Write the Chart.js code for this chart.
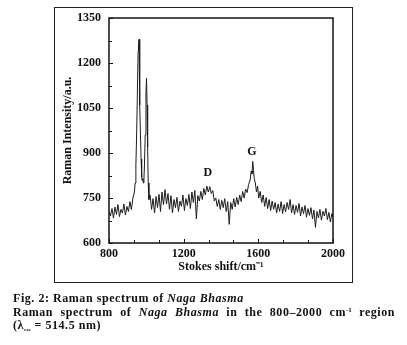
<!DOCTYPE html>
<html>
<head>
<meta charset="utf-8">
<script src="https://cdn.jsdelivr.net/npm/chart.js@4"></script>
<style>
  html, body { margin: 0; padding: 0; background: #fff; }
  body { width: 407px; height: 345px; position: relative; overflow: hidden; }
  #frame { position: absolute; left: 54px; top: 7px; width: 297px; height: 274px; border: 1px solid #222; box-sizing: content-box; }
  canvas#c { position: absolute; left: 0; top: 0; }
  #cap { position: absolute; left: 13px; top: 292px; width: 382px; font-family: "Liberation Serif", serif; font-weight: bold; font-size: 12px; line-height: 13.5px; letter-spacing: 0.55px; color: #111; }
  #cap div { white-space: nowrap; }
  #cap .j { text-align: justify; text-align-last: justify; white-space: normal; }
  #cap sub { font-size: 5px; vertical-align: -2px; letter-spacing: 0; }
  #cap sup { font-size: 7px; vertical-align: 4px; line-height: 0; letter-spacing: 0; }
</style>
</head>
<body>
<div id="frame"></div>
<canvas id="c" width="407" height="345"></canvas>
<div id="cap">
  <div>Fig. 2: Raman spectrum of <i>Naga Bhasma</i></div>
  <div class="j">Raman spectrum of <i>Naga Bhasma</i> in the 800–2000 cm<sup>-1</sup> region</div>
  <div>(λ<sub>exc</sub> = 514.5 nm)</div>
</div>
<script>
// ---- data ----
const ramanShift = [
  800, 808, 816, 824, 832, 840, 848, 856, 864, 872, 880, 888, 896, 904, 912, 920, 928, 936,
  940, 944, 948, 952, 956, 958, 961, 963, 966, 969, 972, 975, 978, 981, 984, 987, 990, 994,
  998, 1001, 1004, 1007, 1010, 1014, 1020, 1028, 1036, 1044, 1052, 1060, 1068, 1076, 1084,
  1092, 1100, 1108, 1116, 1124, 1132, 1140, 1148, 1156, 1164, 1172, 1180, 1188, 1196, 1204,
  1212, 1220, 1228, 1236, 1244, 1252, 1260, 1268, 1276, 1284, 1292, 1300, 1308, 1316, 1324,
  1332, 1340, 1348, 1356, 1364, 1372, 1380, 1388, 1396, 1404, 1412, 1420, 1428, 1436, 1444,
  1452, 1460, 1468, 1476, 1484, 1492, 1500, 1508, 1516, 1524, 1532, 1540, 1548, 1556, 1562,
  1566, 1570, 1574, 1578, 1584, 1590, 1596, 1602, 1610, 1618, 1626, 1634, 1642, 1650, 1658,
  1666, 1674, 1682, 1690, 1698, 1706, 1714, 1722, 1730, 1738, 1746, 1754, 1762, 1770, 1778,
  1786, 1794, 1802, 1810, 1818, 1826, 1834, 1842, 1850, 1858, 1866, 1874, 1882, 1890, 1898,
  1906, 1914, 1922, 1930, 1938, 1946, 1954, 1962, 1970, 1978, 1986, 1994, 2000
];
const ramanIntensity = [
  705, 690, 715, 683, 720, 695, 728, 688, 712, 700, 730, 693, 722, 705, 738, 712, 750, 770,
  800, 860, 960, 1100, 1240, 1262, 1279, 1200, 1060, 950, 880, 820, 808, 815, 800, 812, 860, 960,
  1100, 1150, 1060, 920, 800, 745, 760, 712, 748, 700, 755, 718, 762, 705, 770,
  728, 778, 730, 765, 712, 758, 700, 745, 718, 752, 705, 740, 722, 760, 708,
  748, 725, 762, 715, 770, 735, 775, 680, 758, 740, 772, 745, 782, 760, 790,
  770, 788, 765, 775, 740, 750, 722, 745, 712, 742, 718, 748, 705, 738, 662,
  735, 712, 748, 720, 752, 728, 760, 738, 772, 750, 780, 768, 795, 810, 840,
  830, 872, 845, 815, 800, 770, 790, 750, 772, 735, 760, 722, 752, 715, 745,
  708, 740, 712, 735, 700, 730, 705, 738, 698, 728, 704, 735, 712, 745, 700,
  728, 695, 725, 702, 732, 690, 720, 698, 725, 686, 715, 692, 718, 680, 710,
  652, 705, 684, 712, 676, 706, 690, 715, 678, 702, 670, 698, 686
];
const xTickLabels = [800, 1200, 1600, 2000];
const yTickLabels = [600, 750, 900, 1050, 1200, 1350];
const peakLabels = ['D', 'G'];
const peakLabelX = [1330, 1566];
const peakLabelY = [833, 903];

// ---- chart ----
const FONT = '"Liberation Serif", "Times New Roman", serif';
const points = ramanShift.map((x, i) => ({ x, y: ramanIntensity[i] }));

const boxAndTicks = {
  id: 'boxAndTicks',
  afterDraw(chart) {
    const { ctx, chartArea: a } = chart;
    const xs = chart.scales.x, ys = chart.scales.y;
    ctx.save();
    ctx.strokeStyle = '#111';
    ctx.lineWidth = 1.5;
    ctx.strokeRect(a.left, a.top, a.right - a.left, a.bottom - a.top);
    ctx.lineWidth = 1;
    xs.ticks.forEach(t => {
      const px = Math.round(xs.getPixelForValue(t.value)) + 0.5;
      const major = xTickLabels.some(v => Math.abs(v - t.value) < 1e-6);
      ctx.beginPath();
      ctx.moveTo(px, a.bottom);
      ctx.lineTo(px, a.bottom - (major ? 4 : 3));
      ctx.stroke();
    });
    ys.ticks.forEach(t => {
      const py = Math.round(ys.getPixelForValue(t.value)) + 0.5;
      const major = yTickLabels.some(v => Math.abs(v - t.value) < 1e-6);
      ctx.beginPath();
      ctx.moveTo(a.left, py);
      ctx.lineTo(a.left + (major ? 4 : 3), py);
      ctx.stroke();
    });
    ctx.fillStyle = '#111';
    ctx.font = 'bold 12px ' + FONT;
    ctx.textAlign = 'center';
    ctx.textBaseline = 'middle';
    peakLabels.forEach((s, i) => {
      ctx.fillText(s, xs.getPixelForValue(peakLabelX[i]), ys.getPixelForValue(peakLabelY[i]));
    });
    ctx.restore();
  }
};

new Chart(document.getElementById('c'), {
  type: 'line',
  data: {
    datasets: [{
      data: points,
      borderColor: '#1c1c1c',
      borderWidth: 1,
      pointRadius: 0,
      tension: 0,
      fill: false
    }]
  },
  options: {
    responsive: false,
    animation: false,
    layout: { padding: { left: 55, top: 18, right: 74, bottom: 71 } },
    plugins: { legend: { display: false }, tooltip: { enabled: false } },
    scales: {
      x: {
        type: 'linear',
        min: xTickLabels[0],
        max: xTickLabels[xTickLabels.length - 1],
        grid: { display: false, drawTicks: false },
        border: { display: false },
        afterBuildTicks(scale) {
          const t = [];
          for (let i = 0; i < xTickLabels.length - 1; i++) {
            const a = xTickLabels[i], b = xTickLabels[i + 1];
            for (let k = 0; k < 3; k++) t.push({ value: a + (b - a) * k / 3 });
          }
          t.push({ value: xTickLabels[xTickLabels.length - 1] });
          scale.ticks = t;
        },
        afterFit(scale) { scale.height = 31; },
        ticks: {
          autoSkip: false,
          maxRotation: 0,
          padding: 4,
          color: '#111',
          font: { family: FONT, size: 12, weight: 'bold' },
          callback: (v) => {
            const m = xTickLabels.find(l => Math.abs(l - v) < 1e-6);
            return m === undefined ? '' : String(m);
          }
        },
        title: {
          display: true,
          text: 'Stokes shift/cm⁻¹',
          color: '#111',
          padding: { top: 0, bottom: 0 },
          font: { family: FONT, size: 12, weight: 'bold' }
        }
      },
      y: {
        type: 'linear',
        min: yTickLabels[0],
        max: yTickLabels[yTickLabels.length - 1],
        grid: { display: false, drawTicks: false },
        border: { display: false },
        afterBuildTicks(scale) {
          const t = [];
          for (let i = 0; i < yTickLabels.length - 1; i++) {
            const a = yTickLabels[i], b = yTickLabels[i + 1];
            t.push({ value: a }, { value: (a + b) / 2 });
          }
          t.push({ value: yTickLabels[yTickLabels.length - 1] });
          scale.ticks = t;
        },
        afterFit(scale) { scale.width = 54; },
        ticks: {
          autoSkip: false,
          padding: 8,
          color: '#111',
          font: { family: FONT, size: 12, weight: 'bold' },
          callback: (v) => {
            const m = yTickLabels.find(l => Math.abs(l - v) < 1e-6);
            return m === undefined ? '' : String(m);
          }
        },
        title: {
          display: true,
          text: 'Raman Intensity/a.u.',
          color: '#111',
          padding: { top: 6, bottom: 0 },
          font: { family: FONT, size: 12, weight: 'bold' }
        }
      }
    }
  },
  plugins: [boxAndTicks]
});
</script>
</body>
</html>
